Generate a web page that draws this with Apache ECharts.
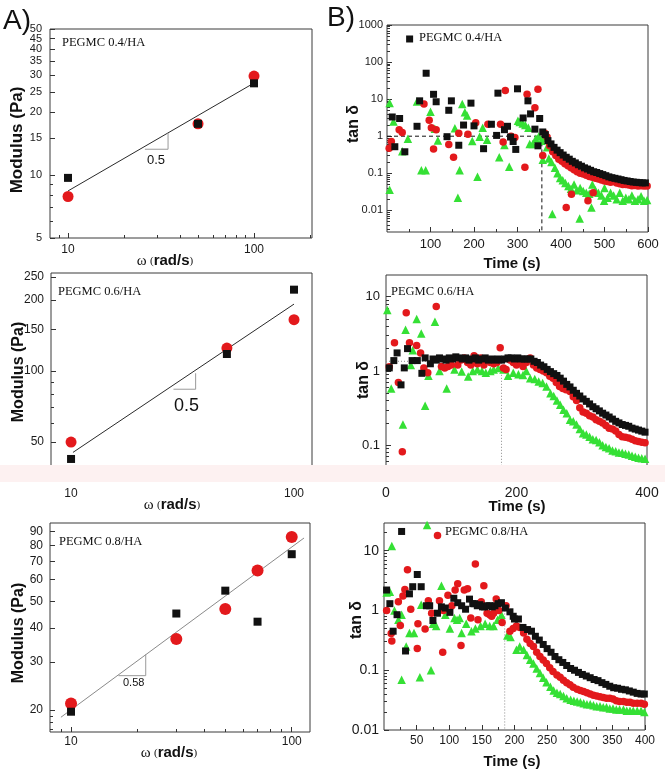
<!DOCTYPE html>
<html><head><meta charset="utf-8">
<script src="https://cdn.jsdelivr.net/npm/echarts@6/dist/echarts.min.js"></script>
<style>html,body{margin:0;padding:0;background:#fff}#c{width:665px;height:776px}</style>
</head><body><div id="c"></div>
<script>
// ---------- Panel A: modulus vs angular frequency ----------
const a1Freq = [10, 50, 100];
const a1Black = [9.7, 17.6, 27.5];
const a1Red = [7.9, 17.6, 29.8];
const a1Fit = [[10, 8.4], [100, 27.6]];
const a1Tri = [[25.9, 13.3], [34.5, 13.3], [34.5, 15.9]];

const a2Freq = [10, 50, 100];
const a2Black = [42.4, 118, 221];
const a2Red = [50, 125, 165];
const a2Fit = [[10.2, 45.2], [100, 192]];
const a2Tri = [[28.8, 83.7], [36.2, 83.7], [36.2, 97.8]];

const a3Freq = [10, 30, 50, 70, 100];
const a3Black = [19.7, 45.1, 54.7, 42.1, 74.4];
const a3Red = [21.1, 36.4, 46.9, 64.9, 86.1];
const a3Fit = [[9.0, 18.8], [113.7, 85.3]];
const a3Tri = [[16.4, 26.7], [21.8, 26.7], [21.8, 32.0]];

// tick labels
const a1YLabels = [5, 10, 15, 20, 25, 30, 35, 40, 45, 50];
const a1YMinor = [6, 7, 8, 9];
const a2YLabels = [50, 100, 150, 200, 250];
const a2YMinor = [40, 60, 70, 80, 90];
const a3YLabels = [20, 30, 40, 50, 60, 70, 80, 90];
const aXLabels = [10, 100];
const aXMinor = [9, 20, 30, 40, 50, 60, 70, 80, 90, 200];
const b1YLabels = [0.01, 0.1, 1, 10, 100, 1000];
const b2YLabels = [0.1, 1, 10];
const b3YLabels = [0.01, 0.1, 1, 10];
const b1XLabels = [100, 200, 300, 400, 500, 600];
const b2XLabels = [0, 200, 400];
const b3XLabels = [50, 100, 150, 200, 250, 300, 350, 400];

// ---------- Panel B: tan delta vs time ----------
const b1Black = [[12,3.3],[18,0.52],[29,3.0],[41,0.38],[52,420],[69,1.85],[75,9.0],[90,50],[107,13.5],[113,8.5],[138,0.97],[142,5.0],[148,9.0],[165,0.57],[176,2.0],[193,7.8],[200,1.9],[222,0.46],[240,2.1],[252,1.05],[255,14.5],[270,1.5],[277,1.85],[284,0.95],[290,0.72],[296,0.44],[300,19],[313,3.1],[324,9.0],[330,4.0],[340,1.55],[347,0.55],[351,3.0],[358,1.3],[364,1.1],[370,0.76],[377,0.62],[384,0.5],[391,0.42],[398,0.36],[405,0.31],[412,0.27],[419,0.24],[426,0.21],[433,0.19],[440,0.17],[447,0.155],[454,0.14],[461,0.13],[468,0.12],[475,0.11],[482,0.105],[489,0.098],[496,0.092],[503,0.086],[510,0.08],[517,0.076],[524,0.073],[531,0.07],[538,0.067],[545,0.064],[552,0.062],[559,0.06],[566,0.058],[573,0.057],[580,0.056],[587,0.055],[594,0.055]];
const b1Red = [[5,0.47],[10,0.72],[28,1.5],[35,1.25],[85,7.4],[97,2.7],[102,1.7],[107,0.45],[113,1.5],[142,0.6],[153,0.27],[165,1.2],[186,1.12],[204,2.3],[232,2.1],[261,2.1],[267,0.7],[272,17],[285,1.0],[294,0.92],[317,0.145],[322,13.5],[340,5.9],[347,18.5],[358,0.3],[363,1.2],[368,0.95],[374,0.55],[381,0.38],[388,0.3],[395,0.24],[402,0.21],[409,0.18],[412,0.012],[416,0.16],[423,0.14],[424,0.027],[430,0.125],[437,0.11],[444,0.1],[451,0.095],[458,0.088],[462,0.018],[465,0.082],[472,0.078],[474,0.03],[479,0.073],[486,0.07],[493,0.066],[500,0.062],[507,0.06],[514,0.057],[521,0.06],[528,0.055],[535,0.052],[542,0.05],[549,0.05],[556,0.048],[563,0.046],[570,0.047],[577,0.045],[584,0.046],[591,0.045],[598,0.045]];
const b1Green = [[6,7.9],[6,0.036],[15,2.5],[35,0.39],[48,0.85],[69,8.6],[79,0.12],[89,0.12],[100,4.6],[110,1.6],[117,0.76],[156,1.65],[163,0.022],[167,0.12],[173,7.4],[179,4.4],[184,3.6],[196,0.74],[208,0.08],[213,0.96],[220,1.7],[230,0.8],[258,0.27],[270,0.58],[281,0.15],[301,2.6],[305,2.4],[312,2.2],[318,2.0],[325,1.7],[328,0.62],[335,0.62],[342,0.85],[349,1.0],[355,0.75],[358,0.23],[363,0.9],[368,0.5],[372,0.25],[378,0.2],[380,0.008],[386,0.14],[392,0.1],[398,0.075],[404,0.065],[410,0.055],[417,0.045],[423,0.038],[430,0.05],[436,0.035],[443,0.006],[444,0.04],[451,0.033],[458,0.03],[465,0.028],[470,0.012],[472,0.05],[479,0.035],[486,0.03],[493,0.025],[499,0.018],[500,0.04],[507,0.022],[514,0.03],[521,0.025],[528,0.02],[535,0.03],[542,0.018],[549,0.022],[556,0.02],[563,0.025],[570,0.018],[577,0.02],[584,0.024],[591,0.018],[598,0.019]];
const b1Guide = [[0,1],[356,1],[356,0.0026]];

const b2Black = [[5,1.1],[12,1.38],[17,1.75],[23,0.65],[28,1.1],[33,2.0],[40,1.38],[48,1.38],[55,0.93],[60,1.5],[68,1.25],[72,1.45],[77,1.4],[82,1.5],[87,1.45],[92,1.4],[97,1.5],[102,1.45],[107,1.55],[112,1.5],[117,1.45],[122,1.5],[127,1.4],[132,1.45],[137,1.5],[142,1.4],[147,1.45],[152,1.5],[157,1.4],[162,1.45],[167,1.4],[172,1.45],[177,1.4],[182,1.45],[187,1.5],[192,1.5],[197,1.45],[202,1.5],[207,1.45],[212,1.45],[217,1.45],[222,1.45],[227,1.35],[232,1.3],[237,1.2],[242,1.14],[247,1.05],[252,0.98],[257,0.92],[262,0.87],[267,0.8],[272,0.73],[277,0.66],[282,0.61],[287,0.55],[292,0.5],[297,0.46],[302,0.42],[307,0.39],[312,0.36],[317,0.33],[322,0.31],[327,0.29],[332,0.27],[337,0.255],[342,0.24],[347,0.225],[352,0.21],[357,0.2],[362,0.19],[367,0.185],[372,0.18],[377,0.17],[382,0.165],[387,0.16],[392,0.155],[397,0.15]];
const b2Red = [[5,1.14],[13,2.4],[19,0.7],[25,0.082],[31,6.1],[36,2.4],[47,2.2],[53,1.75],[58,1.1],[64,0.95],[77,7.4],[85,1.15],[90,1.1],[95,1.15],[100,1.2],[105,1.5],[110,1.2],[115,1.4],[120,1.5],[125,1.3],[130,1.2],[135,1.6],[140,1.25],[145,1.5],[150,1.2],[155,1.4],[160,1.3],[165,1.25],[170,1.3],[175,2.05],[180,1.1],[184,1.05],[190,1.4],[195,1.3],[200,1.2],[205,1.3],[210,1.15],[215,1.3],[221,1.5],[226,1.2],[231,1.1],[236,1.05],[241,1.0],[246,0.95],[251,0.85],[256,0.8],[261,0.7],[266,0.62],[271,0.58],[276,0.56],[282,0.53],[287,0.45],[292,0.4],[297,0.32],[302,0.28],[307,0.27],[312,0.25],[317,0.24],[322,0.22],[327,0.21],[332,0.2],[337,0.185],[342,0.17],[347,0.165],[352,0.155],[357,0.14],[362,0.13],[367,0.128],[372,0.125],[377,0.12],[382,0.115],[387,0.112],[392,0.11],[397,0.108]];
const b2Green = [[2,6.6],[8,0.58],[26,0.19],[30,3.6],[38,1.2],[41,1.9],[47,5.0],[54,3.2],[60,0.34],[65,0.86],[75,4.6],[82,1.0],[93,0.58],[105,1.05],[116,0.98],[126,0.84],[133,1.0],[140,1.05],[147,1.0],[153,0.95],[160,1.0],[165,1.05],[172,1.1],[180,1.05],[187,0.86],[195,0.95],[203,0.9],[210,0.88],[215,1.0],[221,0.8],[228,0.78],[234,0.72],[240,0.69],[246,0.62],[252,0.5],[257,0.46],[262,0.4],[267,0.35],[272,0.3],[277,0.27],[282,0.22],[287,0.21],[292,0.19],[297,0.165],[302,0.145],[307,0.14],[312,0.13],[317,0.12],[322,0.118],[327,0.11],[332,0.1],[337,0.095],[342,0.091],[347,0.085],[352,0.083],[357,0.08],[362,0.079],[367,0.077],[372,0.075],[377,0.072],[382,0.07],[387,0.068],[392,0.067],[397,0.066]];
const b2Guide = [[0,1.35],[177,1.35],[177,0.033]];

const b3Black = [[4,2.2],[9,1.3],[14,0.45],[20,0.85],[27,21],[33,0.21],[39,1.9],[44,2.5],[51,4.0],[57,2.5],[65,1.2],[70,1.2],[75,0.68],[82,0.9],[88,1.15],[94,1.1],[101,0.93],[107,1.6],[113,1.35],[119,1.2],[125,1.05],[131,1.55],[136,1.3],[139,1.3],[143,1.2],[147,1.25],[151,1.15],[154,1.15],[158,1.2],[162,1.2],[166,1.15],[170,1.2],[175,1.3],[180,1.35],[186,1.1],[193,0.95],[198,0.8],[200,0.72],[206,0.72],[213,0.52],[220,0.48],[226,0.45],[232,0.37],[238,0.32],[244,0.27],[250,0.23],[256,0.2],[262,0.17],[268,0.15],[274,0.135],[280,0.12],[286,0.107],[292,0.1],[298,0.092],[304,0.085],[310,0.08],[316,0.075],[322,0.07],[328,0.067],[334,0.062],[340,0.058],[346,0.054],[352,0.051],[358,0.05],[364,0.048],[370,0.047],[376,0.045],[382,0.043],[388,0.041],[394,0.04],[399,0.04]];
const b3Red = [[4,1.0],[11,0.41],[12,0.31],[22,1.4],[25,0.56],[29,1.75],[32,2.25],[36,4.8],[41,1.05],[51,0.23],[52,0.6],[63,0.49],[68,1.45],[73,0.9],[82,18],[85,1.45],[90,0.2],[91,1.0],[98,1.8],[104,1.2],[109,2.2],[113,2.8],[118,0.26],[123,2.2],[128,2.3],[133,0.75],[140,6.0],[144,0.7],[149,1.4],[153,2.6],[158,0.9],[162,0.85],[165,0.8],[168,0.9],[172,1.55],[176,1.0],[181,0.63],[187,1.2],[193,0.45],[198,0.5],[203,0.55],[208,0.52],[214,0.42],[219,0.33],[224,0.28],[229,0.25],[234,0.2],[239,0.17],[244,0.148],[249,0.13],[254,0.11],[259,0.095],[265,0.083],[270,0.076],[275,0.068],[280,0.062],[285,0.057],[290,0.052],[296,0.048],[301,0.046],[306,0.044],[311,0.042],[316,0.04],[321,0.038],[326,0.037],[331,0.036],[336,0.035],[341,0.034],[346,0.034],[351,0.033],[356,0.031],[361,0.03],[367,0.03],[372,0.029],[377,0.029],[382,0.028],[388,0.028],[394,0.028],[399,0.027]];
const b3Green = [[4,2.0],[9,2.06],[12,12],[16,1.0],[22,0.7],[27,0.85],[27,0.069],[34,0.25],[39,0.42],[46,0.42],[55,0.076],[57,1.25],[66,27],[72,0.1],[75,0.6],[80,0.55],[88,2.6],[94,0.85],[101,0.5],[108,0.75],[112,0.7],[116,0.75],[119,0.42],[126,0.6],[134,0.45],[140,0.5],[148,0.55],[155,0.6],[162,0.55],[168,0.55],[174,0.7],[180,0.85],[189,0.38],[194,0.36],[203,0.22],[208,0.25],[214,0.22],[219,0.18],[224,0.15],[229,0.13],[234,0.107],[239,0.09],[244,0.075],[249,0.063],[255,0.053],[260,0.046],[265,0.042],[270,0.04],[275,0.037],[280,0.034],[286,0.032],[291,0.031],[296,0.03],[301,0.029],[306,0.028],[311,0.027],[316,0.027],[321,0.026],[326,0.025],[331,0.025],[336,0.024],[341,0.024],[346,0.023],[351,0.023],[356,0.022],[361,0.022],[367,0.022],[372,0.021],[377,0.021],[382,0.021],[388,0.021],[394,0.021],[399,0.02]];
const b3Guide = [[185,1.0],[185,0.01]];

// ---------- helpers ----------
const SANS = 'Liberation Sans, Arial, sans-serif';
const SERIF = 'Liberation Serif, Times New Roman, serif';
const BLACK = '#111111', RED = '#e3191c', GREEN = '#35e035';

function decadeMinor(lo, hi) {
  const out = [];
  for (let e = lo; e < hi; e++) for (let m = 2; m <= 9; m++) out.push(+(m * Math.pow(10, e)).toPrecision(3));
  return out;
}
function fmt(v) { return String(+(+v).toPrecision(6)); }

const grids = [];
const xAxes = [];
const yAxes = [];
// Each panel gets two axes per dimension: the first carries the major ticks and
// every other tick label, the second the minor ticks and the remaining labels,
// so dense labels never collide inside one axis.
function addPanel(g, xc, yc) {
  const gi = grids.length;
  grids.push(Object.assign({ show: true, borderColor: '#3a3a3a', borderWidth: 1, backgroundColor: 'transparent' }, g));
  const mk = (dim, c, second) => {
    const labs = c.split ? c.labels.filter((v, i) => (i % 2 === 1) === second) : (second ? [] : c.labels);
    return {
      type: c.type, logBase: 10, gridIndex: gi, min: c.min, max: c.max,
      position: dim === 'x' ? 'bottom' : 'left',
      axisLine: { show: false }, splitLine: { show: false }, minorTick: { show: false },
      axisTick: { show: true, inside: true, length: second ? 3 : 5, lineStyle: { color: '#333', width: 1 },
        customValues: second ? c.minor : c.ticks },
      axisLabel: { show: labs.length > 0, customValues: labs.length ? labs : [c.min], margin: c.margin,
        showMinLabel: true, showMaxLabel: true, hideOverlap: false,
        fontSize: c.fs, color: '#1a1a1a', fontFamily: SANS, formatter: fmt }
    };
  };
  xAxes.push(mk('x', xc, false)); xAxes.push(mk('x', xc, true));
  yAxes.push(mk('y', yc, false)); yAxes.push(mk('y', yc, true));
  return { xi: 2 * gi, yi: 2 * gi };
}

const pA1 = addPanel({ left: 50, top: 29, width: 262, height: 209 },
  { type: 'log', min: 8, max: 205, labels: aXLabels, ticks: aXLabels, minor: aXMinor, margin: 6, fs: 12 },
  { type: 'log', min: 5, max: 50.05, labels: a1YLabels, ticks: a1YLabels, minor: a1YMinor, margin: 8, fs: 11, split: true });
const pB1 = addPanel({ left: 387, top: 25, width: 261, height: 207 },
  { type: 'value', min: 0, max: 600, labels: b1XLabels, ticks: b1XLabels, minor: [50, 150, 250, 350, 450, 550], margin: 6, fs: 13 },
  { type: 'log', min: 0.0026, max: 1001, labels: b1YLabels, ticks: b1YLabels, minor: decadeMinor(-3, 3).filter(v => v > 0.0026), margin: 4, fs: 11 });
const pA2 = addPanel({ left: 51, top: 273, width: 261, height: 208 },
  { type: 'log', min: 8.13, max: 120.4, labels: aXLabels, ticks: aXLabels, minor: aXMinor.filter(v => v < 120), margin: 7, fs: 12 },
  { type: 'log', min: 34.2, max: 260, labels: a2YLabels, ticks: a2YLabels, minor: a2YMinor, margin: 7, fs: 12 });
const pB2 = addPanel({ left: 386, top: 275, width: 261, height: 206 },
  { type: 'value', min: 0, max: 400, labels: b2XLabels, ticks: [0, 100, 200, 300, 400], minor: [50, 150, 250, 350], margin: 5, fs: 14 },
  { type: 'log', min: 0.033, max: 19.6, labels: b2YLabels, ticks: b2YLabels, minor: decadeMinor(-2, 2).filter(v => v > 0.033 && v < 19.6), margin: 6, fs: 13 });
const pA3 = addPanel({ left: 50, top: 523, width: 260, height: 209 },
  { type: 'log', min: 8.03, max: 121, labels: aXLabels, ticks: aXLabels, minor: aXMinor.filter(v => v < 120), margin: 4, fs: 12 },
  { type: 'log', min: 16.6, max: 96.8, labels: a3YLabels, ticks: a3YLabels, minor: [17, 18, 19], margin: 7, fs: 12, split: true });
const pB3 = addPanel({ left: 384, top: 523, width: 261, height: 207 },
  { type: 'value', min: 0, max: 400, labels: b3XLabels, ticks: b3XLabels, minor: [25, 75, 125, 175, 225, 275, 325, 375], margin: 5, fs: 12 },
  { type: 'log', min: 0.01, max: 29.1, labels: b3YLabels, ticks: b3YLabels, minor: decadeMinor(-2, 2).filter(v => v < 29), margin: 5, fs: 14 });

const series = [];
function scatter(p, data, symbol, size, color, z) {
  series.push({ type: 'scatter', xAxisIndex: p.xi, yAxisIndex: p.yi, data, symbol, symbolSize: size,
    itemStyle: { color, opacity: 1 }, z: z || 3, silent: true, animation: false });
}
function line(p, data, color, width, type, z) {
  series.push({ type: 'line', xAxisIndex: p.xi, yAxisIndex: p.yi, data, symbol: 'none',
    lineStyle: { color, width, type: type || 'solid' }, z: z || 2, silent: true, animation: false });
}
const zip = (xs, ys) => xs.map((x, i) => [x, ys[i]]);

// A panels
line(pA1, a1Fit, '#2a2a2a', 1); line(pA1, a1Tri, '#9a9a9a', 1);
scatter(pA1, zip(a1Freq, a1Red), 'circle', 11, RED, 3);
scatter(pA1, zip(a1Freq, a1Black), 'rect', 8, BLACK, 4);
line(pA2, a2Fit, '#2a2a2a', 1); line(pA2, a2Tri, '#9a9a9a', 1);
scatter(pA2, zip(a2Freq, a2Red), 'circle', 11, RED, 3);
scatter(pA2, zip(a2Freq, a2Black), 'rect', 8, BLACK, 4);
line(pA3, a3Fit, '#8a8a8a', 1); line(pA3, a3Tri, '#9a9a9a', 1);
scatter(pA3, zip(a3Freq, a3Red), 'circle', 12, RED, 3);
scatter(pA3, zip(a3Freq, a3Black), 'rect', 8, BLACK, 4);

// B panels
line(pB1, b1Guide, '#111', 1, [4, 3]);
scatter(pB1, b1Green, 'triangle', 8.5, GREEN, 3);
scatter(pB1, b1Red, 'circle', 7.5, RED, 4);
scatter(pB1, b1Black, 'rect', 7, BLACK, 5);
line(pB2, b2Guide, '#8a8a8a', 1, [1, 2]);
scatter(pB2, b2Green, 'triangle', 8.5, GREEN, 3);
scatter(pB2, b2Red, 'circle', 7.5, RED, 4);
scatter(pB2, b2Black, 'rect', 7, BLACK, 5);
line(pB3, b3Guide, '#8a8a8a', 1, [1, 2]);
scatter(pB3, b3Green, 'triangle', 8.5, GREEN, 3);
scatter(pB3, b3Red, 'circle', 7.5, RED, 4);
scatter(pB3, b3Black, 'rect', 7, BLACK, 5);

// ---------- texts ----------
function txt(x, y, text, font, opts) {
  return Object.assign({ type: 'text', x, y, z: 50, silent: true,
    style: Object.assign({ text, font, fill: '#111', textAlign: 'left', textVerticalAlign: 'middle' }, (opts && opts.style) || {}) },
    opts && opts.rotation ? { rotation: opts.rotation } : {});
}
const omegaRich = {
  w: { fontFamily: SERIF, fontSize: 15, fill: '#111' },
  p: { fontFamily: SERIF, fontSize: 11, fill: '#111' },
  b: { fontFamily: SANS, fontSize: 15, fontWeight: 'bold', fill: '#111' }
};
function omegaName(x, y) {
  return { type: 'text', x, y, z: 50, silent: true,
    style: { text: '{w|ω} {p|(}{b|rad/s}{p|)}', rich: omegaRich, textAlign: 'center', textVerticalAlign: 'middle' } };
}
const rot = Math.PI / 2;
const graphics = [
  { type: 'rect', z: 40, silent: true, shape: { x: 0, y: 465, width: 665, height: 17 }, style: { fill: '#fdf1f1' } },
  txt(3, 21, 'A)', 'normal 28px ' + SANS),
  txt(327, 18, 'B)', 'normal 28px ' + SANS),
  txt(62, 43, 'PEGMC 0.4/HA', 'normal 12.5px ' + SERIF),
  txt(58, 292, 'PEGMC 0.6/HA', 'normal 12.5px ' + SERIF),
  txt(59, 542, 'PEGMC 0.8/HA', 'normal 12.5px ' + SERIF),
  txt(419, 38, 'PEGMC 0.4/HA', 'normal 12.5px ' + SERIF),
  txt(391, 292, 'PEGMC 0.6/HA', 'normal 12.5px ' + SERIF),
  txt(445, 532, 'PEGMC 0.8/HA', 'normal 12.5px ' + SERIF),
  txt(147, 160, '0.5', 'normal 13px ' + SANS),
  txt(174, 406, '0.5', 'normal 18px ' + SANS),
  txt(123, 683, '0.58', 'normal 11px ' + SANS),
  txt(17, 140, 'Modulus (Pa)', 'bold 17px ' + SANS, { rotation: rot, style: { textAlign: 'center' } }),
  txt(19, 372, 'Modulus (Pa)', 'bold 16px ' + SANS, { rotation: rot, style: { textAlign: 'center' } }),
  txt(19, 633, 'Modulus (Pa)', 'bold 16px ' + SANS, { rotation: rot, style: { textAlign: 'center' } }),
  txt(354, 124, 'tan δ', 'bold 16px ' + SANS, { rotation: rot, style: { textAlign: 'center' } }),
  txt(364, 380, 'tan δ', 'bold 16px ' + SANS, { rotation: rot, style: { textAlign: 'center' } }),
  txt(357, 620, 'tan δ', 'bold 16px ' + SANS, { rotation: rot, style: { textAlign: 'center' } }),
  omegaName(165, 261), omegaName(172, 505), omegaName(169, 753),
  txt(512, 264, 'Time (s)', 'bold 15px ' + SANS, { style: { textAlign: 'center' } }),
  txt(517, 507, 'Time (s)', 'bold 15px ' + SANS, { style: { textAlign: 'center' } }),
  txt(512, 762, 'Time (s)', 'bold 15px ' + SANS, { style: { textAlign: 'center' } })
];

const chart = echarts.init(document.getElementById('c'), null, { renderer: 'canvas' });
chart.setOption({
  animation: false,
  backgroundColor: '#ffffff',
  grid: grids, xAxis: xAxes, yAxis: yAxes, series,
  graphic: { elements: graphics }
});
</script></body></html>
